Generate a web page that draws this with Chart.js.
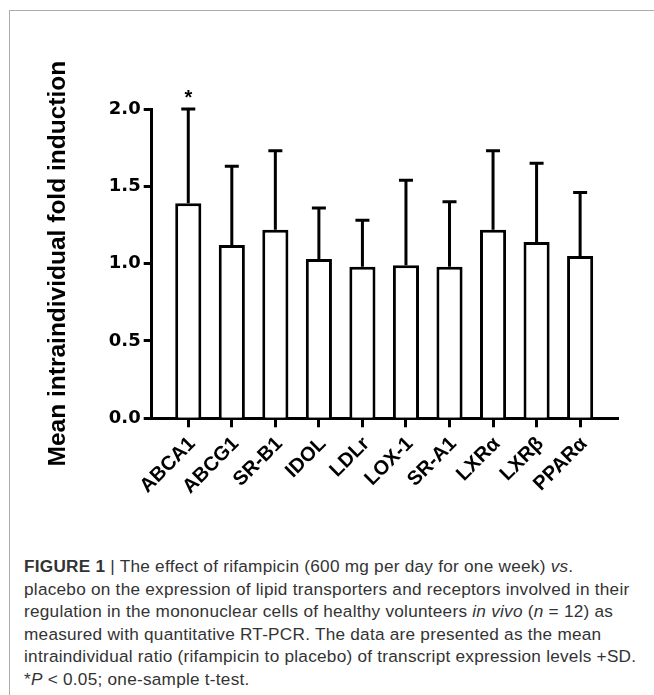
<!DOCTYPE html>
<html>
<head>
<meta charset="utf-8">
<script src="https://cdn.jsdelivr.net/npm/chart.js@4.4.0/dist/chart.umd.min.js"></script>
<style>
  body { margin: 0; background: #fff; width: 654px; height: 695px; position: relative; overflow: hidden; }
  #frame { position: absolute; left: 9px; top: 10px; right: 0; bottom: 0; border-top: 1.5px solid #adadad; border-left: 1.5px solid #adadad; }
  #chartBox { position: absolute; left: 0; top: 0; width: 654px; height: 540px; }
  #caption { position: absolute; left: 24px; top: 555px; font-family: "Liberation Sans", Arial, sans-serif; font-size: 17.2px; letter-spacing: 0.25px; line-height: 22.5px; color: #333; white-space: nowrap; }
</style>
</head>
<body>
<div id="frame"></div>
<div id="chartBox"><canvas id="barCanvas"></canvas></div>
<div id="caption">
<b>FIGURE 1</b> | The effect of rifampicin (600 mg per day for one week) <i>vs</i>.<br>
placebo on the expression of lipid transporters and receptors involved in their<br>
regulation in the mononuclear cells of healthy volunteers <i>in vivo</i> (<i>n</i> = 12) as<br>
measured with quantitative RT-PCR. The data are presented as the mean<br>
intraindividual ratio (rifampicin to placebo) of transcript expression levels +SD.<br>
*<i>P</i> &lt; 0.05; one-sample t-test.
</div>
<script>
const genes = ["ABCA1", "ABCG1", "SR-B1", "IDOL", "LDLr", "LOX-1", "SR-A1", "LXRα", "LXRβ", "PPARα"];
const meanFold = [1.39, 1.12, 1.22, 1.03, 0.98, 0.99, 0.98, 1.22, 1.14, 1.05];
const sdFold = [0.61, 0.51, 0.51, 0.33, 0.30, 0.55, 0.42, 0.51, 0.51, 0.41];
const significance = ["*", "", "", "", "", "", "", "", "", ""];
const yTicks = [0, 0.5, 1.0, 1.5, 2.0];
const yTitle = "Mean intraindividual fold induction";

// mean + SD whiskers, drawn on top of the bars
const errorBars = {
    id: "errorBars",
    afterDatasetsDraw(chart) {
        const ctx = chart.ctx;
        const xs = chart.scales.x, ys = chart.scales.y;
        ctx.save();
        ctx.strokeStyle = "#000";
        ctx.fillStyle = "#000";
        ctx.lineWidth = 3;
        meanFold.forEach((m, i) => {
            const px = xs.getPixelForValue(i);
            const base = ys.getPixelForValue(m);
            const top = ys.getPixelForValue(m + sdFold[i]);
            ctx.beginPath();
            ctx.moveTo(px, base);
            ctx.lineTo(px, top);
            ctx.moveTo(px - 7, top);
            ctx.lineTo(px + 7, top);
            ctx.stroke();
            if (significance[i]) {
                ctx.font = 'bold 20px "Liberation Sans", Arial';
                ctx.textAlign = "center";
                ctx.textBaseline = "alphabetic";
                ctx.fillText(significance[i], px, top - 5);
            }
        });
        ctx.restore();
    }
};

new Chart(document.getElementById("barCanvas"), {
    type: "bar",
    data: {
        datasets: [{
            data: meanFold.map((v, i) => ({ x: i, y: v })),
            backgroundColor: "#fff",
            borderColor: "#000",
            borderWidth: 3,
            borderSkipped: "start",
            barPercentage: 0.6,
            categoryPercentage: 1
        }]
    },
    options: {
        responsive: true,
        maintainAspectRatio: false,
        animation: false,
        layout: { padding: { left: 0, right: 36, top: 109, bottom: 0 } },
        plugins: { legend: { display: false }, tooltip: { enabled: false } },
        scales: {
            x: {
                type: "linear",
                min: -0.84,
                max: 9.87,
                offset: false,
                afterFit: (s) => { s.height = 121.7; },
                afterBuildTicks: (s) => { s.ticks = genes.map((g, i) => ({ value: i })); },
                grid: { offset: false, drawOnChartArea: false, tickLength: 9, tickWidth: 3, tickColor: "#000" },
                border: { color: "#000", width: 3 },
                ticks: {
                    autoSkip: false,
                    minRotation: 45,
                    maxRotation: 45,
                    padding: 5,
                    labelOffset: 4,
                    color: "#000",
                    font: { family: "Liberation Sans", weight: "bold", size: 20 },
                    callback: (v) => genes[v]
                }
            },
            y: {
                min: 0,
                max: 2,
                afterFit: (s) => { s.width = 151.7; },
                afterBuildTicks: (s) => { s.ticks = yTicks.map((v) => ({ value: v })); },
                grid: { drawOnChartArea: false, tickLength: 8, tickWidth: 3, tickColor: "#000" },
                border: { color: "#000", width: 3 },
                ticks: {
                    padding: 3,
                    color: "#000",
                    font: { family: "DejaVu Sans", weight: "bold", size: 18 },
                    callback: (v) => v.toFixed(1)
                },
                title: {
                    display: true,
                    text: yTitle,
                    color: "#000",
                    padding: { top: 44, bottom: 0 },
                    font: { family: "Liberation Sans", weight: "bold", size: 24.5 }
                }
            }
        }
    },
    plugins: [errorBars]
});
</script>
</body>
</html>
